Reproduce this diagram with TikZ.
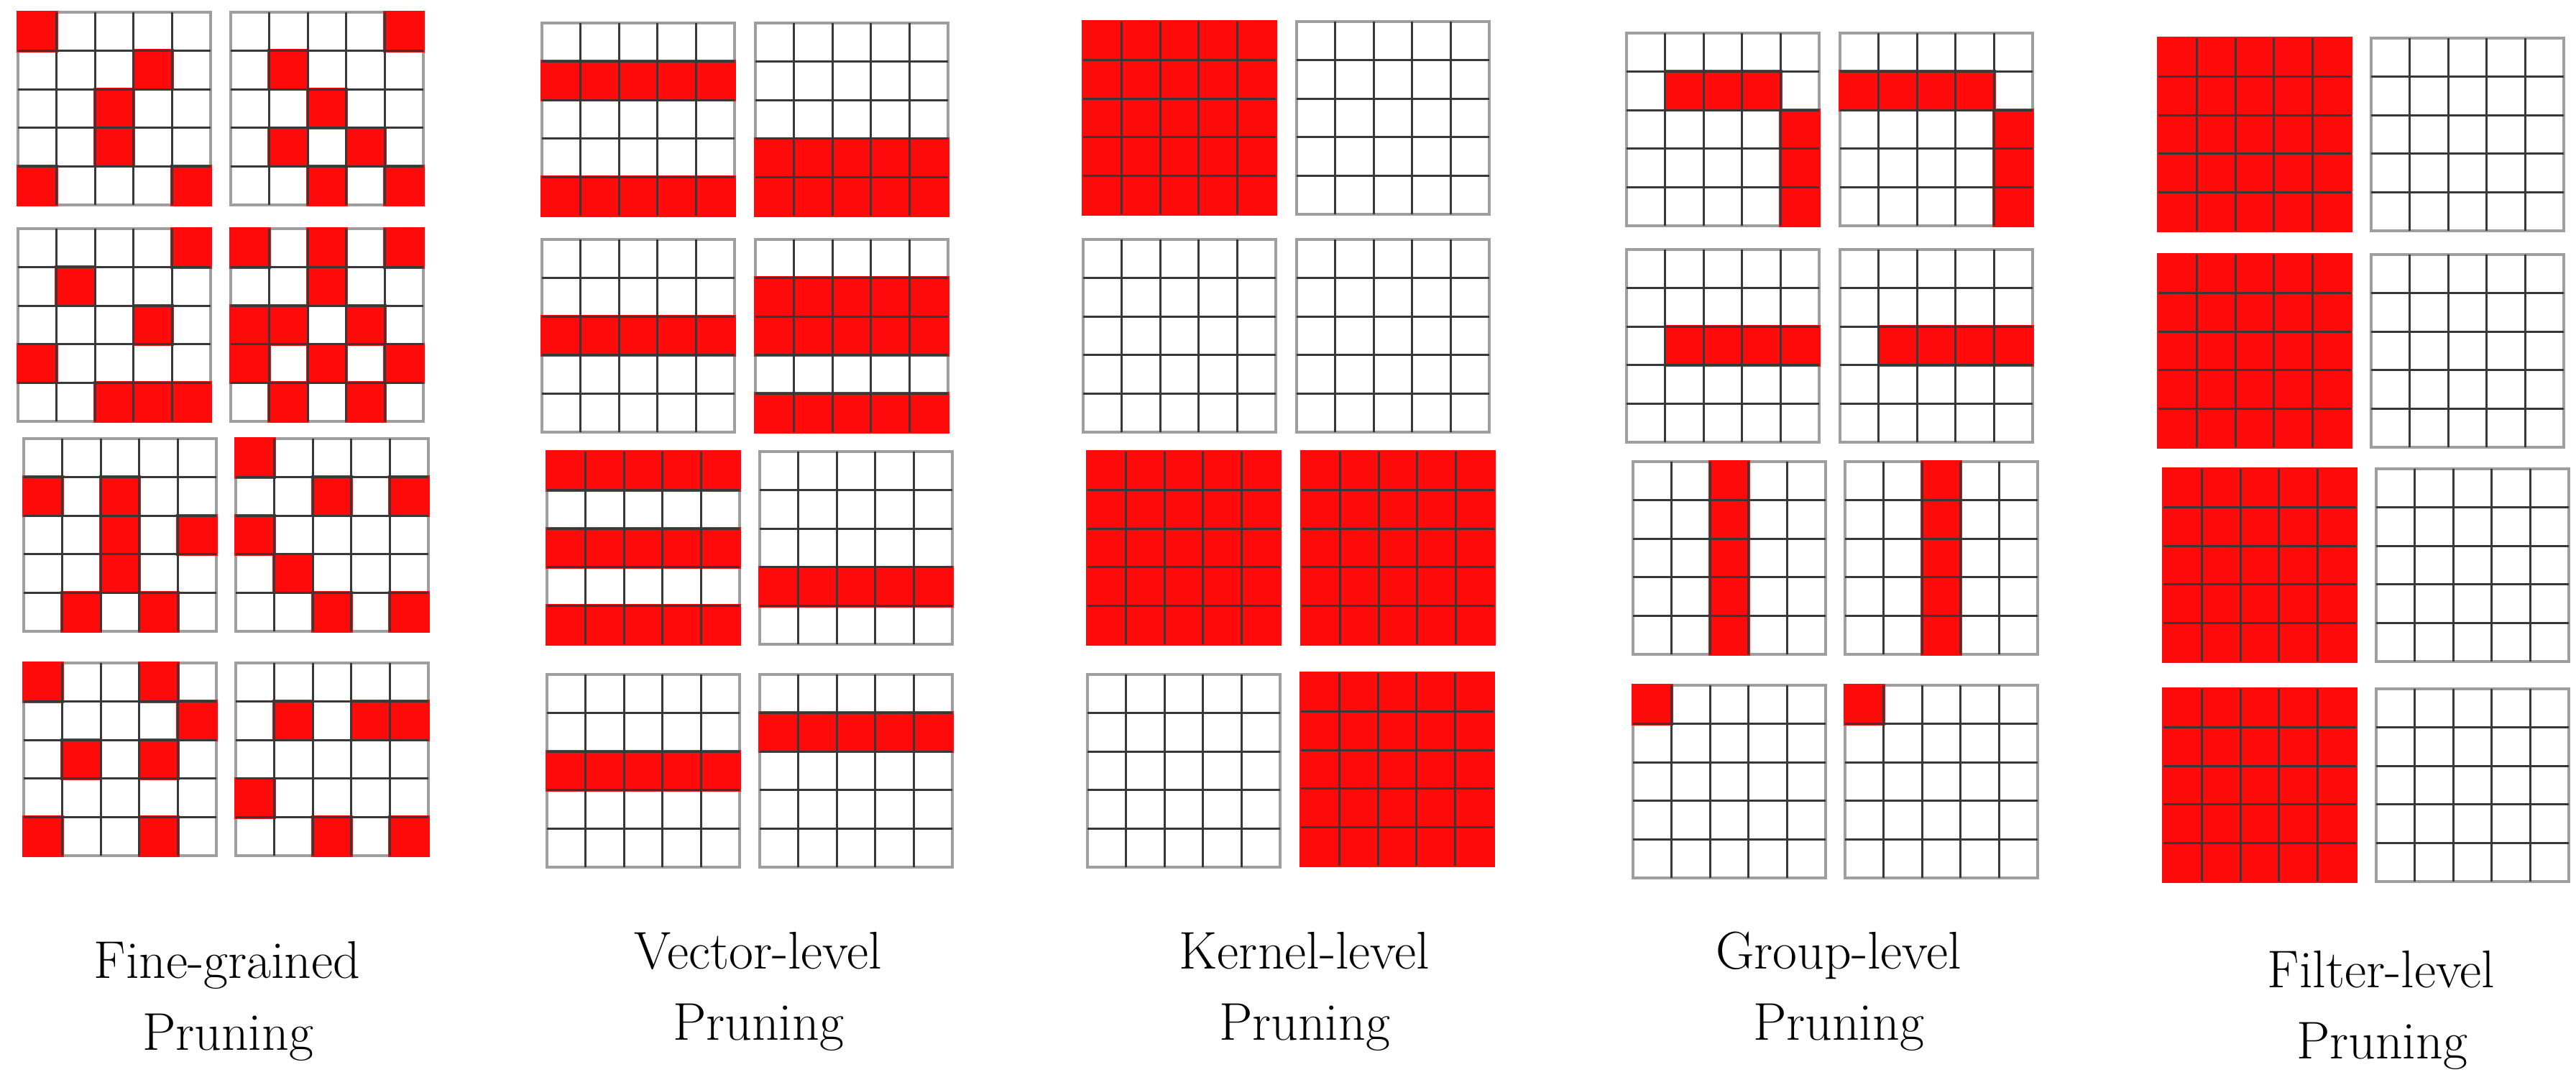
\documentclass[tikz,border=0pt]{standalone}
\definecolor{pr}{RGB}{255,10,10}
\tikzset{
  innerline/.style={draw=black!78, line width=0.85pt},
  outerline/.style={draw=black!38, line width=1.2pt},
  redcell/.style={fill=pr, draw=pr, line width=1.2pt},
  lbl/.style={font=\fontsize{21}{25}\selectfont, anchor=base, inner sep=0pt},
}
% #1 background (white or red), #2 x px, #3 y px, #4 list of row/col red cells (0/0 = none)
\newcommand\pgrid[4][white]{%
  \begin{scope}[shift={({#2/100},{-#3/100})}]
    \fill[white] (0,0) rectangle (2.68,-2.68);
    \draw[outerline] (0,0) rectangle (2.68,-2.68);
    \ifx#1r\filldraw[redcell] (0,0) rectangle (2.68,-2.68);\fi
    \foreach \r/\c in {#4} {
      \ifnum\r>0
        \filldraw[redcell] ({(\c-1)*0.536},{-(\r-1)*0.536}) rectangle ++(0.536,-0.536);
      \fi
    }
    \foreach \i in {1,...,4} {
      \draw[innerline] ({\i*0.536},0) -- ({\i*0.536},-2.68);
      \draw[innerline] (0,{-\i*0.536}) -- (2.68,{-\i*0.536});
    }
  \end{scope}}
\begin{document}
\begin{tikzpicture}
\useasboundingbox (0,0) rectangle (35.84,-15.02);
\fill[white] (0,0) rectangle (35.84,-15.02);

% ---- Fine-grained ----
\pgrid{25}{17}{1/1,2/4,3/3,4/3,5/1,5/5}
\pgrid{321}{17}{1/5,2/2,3/3,4/2,4/4,5/3,5/5}
\pgrid{25}{318}{1/5,2/2,3/4,4/1,5/3,5/4,5/5}
\pgrid{321}{318}{1/1,1/3,1/5,2/3,3/1,3/2,3/4,4/1,4/3,4/5,5/2,5/4}
\pgrid{33}{610}{2/1,2/3,3/3,3/5,4/3,5/2,5/4}
\pgrid{328}{610}{1/1,2/3,2/5,3/1,4/2,5/3,5/5}
\pgrid{33}{922}{1/1,1/4,2/5,3/2,3/4,5/1,5/4}
\pgrid{328}{922}{2/2,2/4,2/5,4/1,5/3,5/5}

% ---- Vector-level ----
\pgrid{754}{32}{2/1,2/2,2/3,2/4,2/5,5/1,5/2,5/3,5/4,5/5}
\pgrid{1051}{32}{4/1,4/2,4/3,4/4,4/5,5/1,5/2,5/3,5/4,5/5}
\pgrid{754}{333}{3/1,3/2,3/3,3/4,3/5}
\pgrid{1051}{333}{2/1,2/2,2/3,2/4,2/5,3/1,3/2,3/3,3/4,3/5,5/1,5/2,5/3,5/4,5/5}
\pgrid{761}{628}{1/1,1/2,1/3,1/4,1/5,3/1,3/2,3/3,3/4,3/5,5/1,5/2,5/3,5/4,5/5}
\pgrid{1057}{628}{4/1,4/2,4/3,4/4,4/5}
\pgrid{761}{938}{3/1,3/2,3/3,3/4,3/5}
\pgrid{1057}{938}{2/1,2/2,2/3,2/4,2/5}

% ---- Kernel-level ----
\pgrid[r]{1507}{30}{0/0}
\pgrid{1804}{30}{0/0}
\pgrid{1507}{333}{0/0}
\pgrid{1804}{333}{0/0}
\pgrid[r]{1513}{628}{0/0}
\pgrid[r]{1811}{628}{0/0}
\pgrid{1513}{938}{0/0}
\pgrid[r]{1810}{936}{0/0}

% ---- Group-level ----
\pgrid{2263}{46}{2/2,2/3,2/4,3/5,4/5,5/5}
\pgrid{2560}{46}{2/1,2/2,2/3,2/4,3/5,4/5,5/5}
\pgrid{2263}{347}{3/2,3/3,3/4,3/5}
\pgrid{2560}{347}{3/2,3/3,3/4,3/5}
\pgrid{2272}{642}{1/3,2/3,3/3,4/3,5/3}
\pgrid{2567}{642}{1/3,2/3,3/3,4/3,5/3}
\pgrid{2272}{953}{1/1}
\pgrid{2567}{953}{1/1}

% ---- Filter-level ----
\pgrid[r]{3003}{53}{0/0}
\pgrid{3299}{53}{0/0}
\pgrid[r]{3003}{354}{0/0}
\pgrid{3299}{354}{0/0}
\pgrid[r]{3010}{652}{0/0}
\pgrid{3306}{652}{0/0}
\pgrid[r]{3010}{958}{0/0}
\pgrid{3306}{958}{0/0}

% ---- labels ----
\node[lbl] (fineA) at (3.16,-13.61) {Fine-grained};
\node[lbl] (fineB) at (3.17,-14.60) {Pruning};
\node[lbl] (vecA) at (10.55,-13.48) {Vector-level};
\node[lbl] (vecB) at (10.55,-14.47) {Pruning};
\node[lbl] (kerA) at (18.15,-13.48) {Kernel-level};
\node[lbl] (kerB) at (18.15,-14.47) {Pruning};
\node[lbl] (grpA) at (25.58,-13.48) {Group-level};
\node[lbl] (grpB) at (25.58,-14.47) {Pruning};
\node[lbl] (filA) at (33.13,-13.74) {Filter-level};
\node[lbl] (filB) at (33.14,-14.73) {Pruning};
\end{tikzpicture}
\end{document}
